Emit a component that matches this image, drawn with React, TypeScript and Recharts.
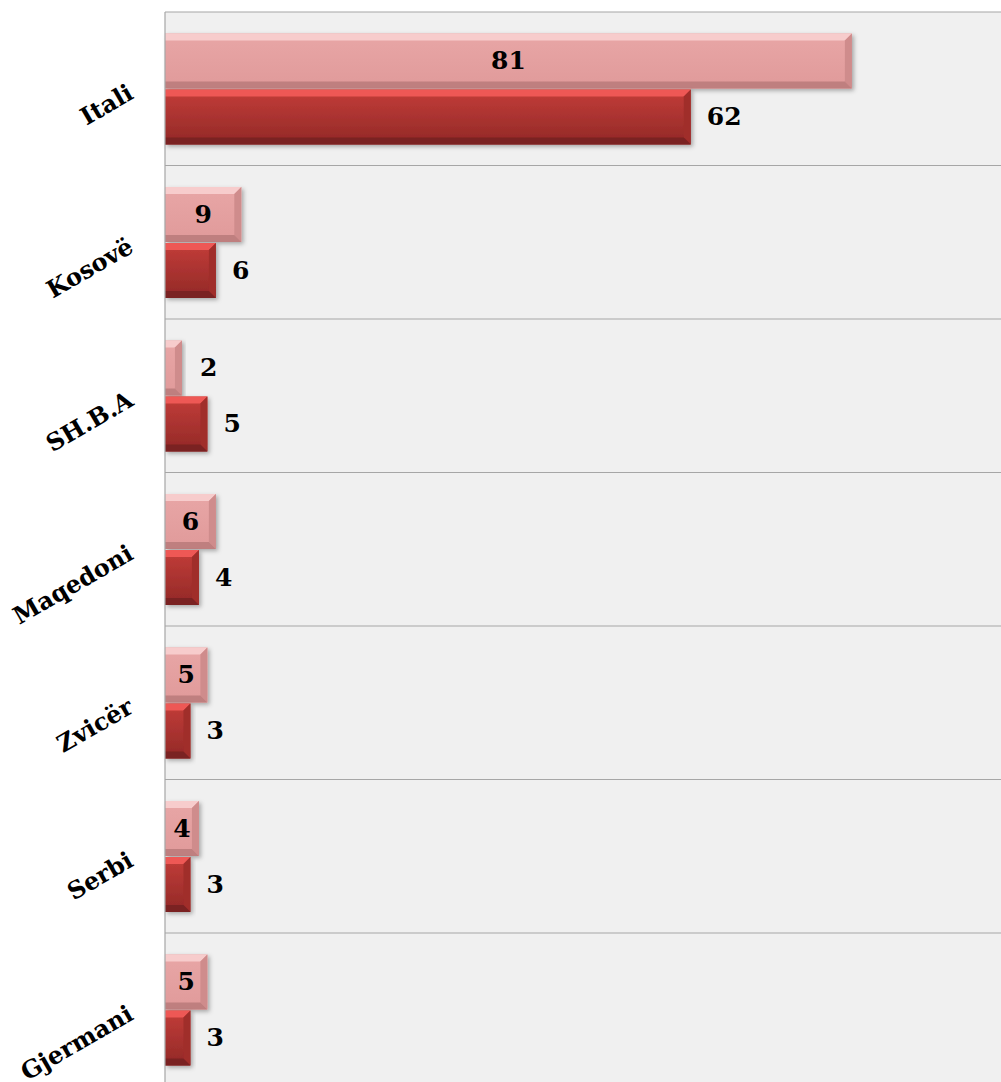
import React from 'react';
import { BarChart, Bar, XAxis, YAxis, CartesianGrid, LabelList } from 'recharts';

const categories = ['Itali', 'Kosovë', 'SH.B.A', 'Maqedoni', 'Zvicër', 'Serbi', 'Gjermani'];
const lightValues = [81, 9, 2, 6, 5, 4, 5];
const darkValues = [62, 6, 5, 4, 3, 3, 3];

const data = categories.map((name, i) => ({ name, light: lightValues[i], dark: darkValues[i] }));

const FONT = '"DejaVu Serif", "Liberation Serif", serif';

type Palette = { top: string; right: string; bottom: string; grad: string };

const lightPalette: Palette = { top: '#f7cccc', right: '#cf8c8c', bottom: '#bf7f7f', grad: 'url(#gLight)' };
const darkPalette: Palette = { top: '#ee5855', right: '#a02e2c', bottom: '#7a2020', grad: 'url(#gDark)' };

const makeShape = (p: Palette) => (props: any) => {
  const { x, y, width, height } = props;
  if (!width || width <= 0) return null;
  const b = Math.min(7, width / 2, height / 2);
  return (
    <g filter="url(#shadow)">
      <rect x={x} y={y} width={width} height={height} fill={p.grad} />
      <polygon points={`${x},${y} ${x + width},${y} ${x + width - b},${y + b} ${x},${y + b}`} fill={p.top} />
      <polygon points={`${x + width},${y} ${x + width},${y + height} ${x + width - b},${y + height - b} ${x + width - b},${y + b}`} fill={p.right} />
      <polygon points={`${x},${y + height} ${x + width},${y + height} ${x + width - b},${y + height - b} ${x},${y + height - b}`} fill={p.bottom} />
    </g>
  );
};

const LightLabel = (props: any) => {
  const { x, y, width, height, value } = props;
  const small = width < 30;
  return (
    <text
      x={small ? x + width + 18 : x + width / 2}
      y={y + height / 2}
      textAnchor={small ? 'start' : 'middle'}
      dominantBaseline="central"
      fontFamily={FONT}
      fontWeight="bold"
      fontSize={25}
      fill="#000"
    >
      {value}
    </text>
  );
};

const DarkLabel = (props: any) => {
  const { x, y, width, height, value } = props;
  return (
    <text
      x={x + width + 16}
      y={y + height / 2}
      textAnchor="start"
      dominantBaseline="central"
      fontFamily={FONT}
      fontWeight="bold"
      fontSize={25}
      fill="#000"
    >
      {value}
    </text>
  );
};

const CatTick = (props: any) => {
  const { x, y, payload } = props;
  return (
    <g transform={`translate(${x - 28},${y + 9})`}>
      <text textAnchor="end" transform="rotate(-30)" fontFamily={FONT} fontWeight="bold" fontSize={24} fill="#000">
        {payload.value}
      </text>
    </g>
  );
};

export default function App() {
  return (
    <div style={{ position: 'absolute', left: 0, top: 0, width: 1001, height: 1082, overflow: 'hidden', background: '#fff' }}>
      <BarChart
        width={1020}
        height={1100}
        data={data}
        layout="vertical"
        margin={{ top: 12, right: 7, left: 0, bottom: 13.5 }}
        barCategoryGap="14%"
        barGap={1}
      >
        <defs>
          <linearGradient id="gLight" x1="0" y1="0" x2="0" y2="1">
            <stop offset="0%" stopColor="#e8a6a6" />
            <stop offset="100%" stopColor="#e09a9a" />
          </linearGradient>
          <linearGradient id="gDark" x1="0" y1="0" x2="0" y2="1">
            <stop offset="0%" stopColor="#c33d39" />
            <stop offset="100%" stopColor="#922927" />
          </linearGradient>
          <filter id="shadow" x="-10%" y="-10%" width="130%" height="130%">
            <feDropShadow dx="2" dy="2" stdDeviation="2" floodColor="#000" floodOpacity="0.3" />
          </filter>
        </defs>
        <CartesianGrid
          vertical={false}
          fill="#f0f0f0"
          stroke="#a6a6a6"
          strokeWidth={1.2}
          horizontalCoordinatesGenerator={({ offset }: any) =>
            Array.from({ length: categories.length + 1 }, (_, i) => offset.top + (i * offset.height) / categories.length)
          }
        />
        <XAxis type="number" domain={[0, 100]} hide />
        <YAxis
          type="category"
          dataKey="name"
          width={165}
          axisLine={{ stroke: '#a6a6a6', strokeWidth: 1.2 }}
          tickLine={false}
          tickSize={0}
          tick={<CatTick />}
          interval={0}
        />
        <Bar dataKey="light" shape={makeShape(lightPalette)} isAnimationActive={false}>
          <LabelList dataKey="light" content={<LightLabel />} />
        </Bar>
        <Bar dataKey="dark" shape={makeShape(darkPalette)} isAnimationActive={false}>
          <LabelList dataKey="dark" content={<DarkLabel />} />
        </Bar>
      </BarChart>
    </div>
  );
}
